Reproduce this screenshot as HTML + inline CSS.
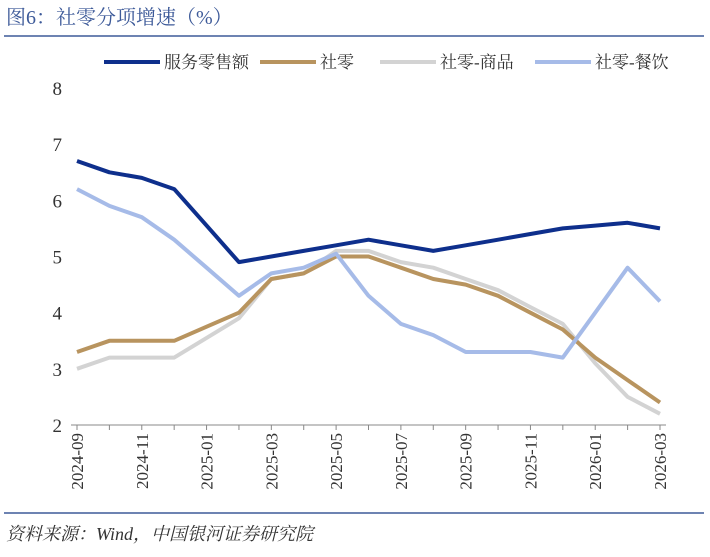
<!DOCTYPE html>
<html><head><meta charset="utf-8">
<style>
body{margin:0;width:710px;height:552px;background:#fff;overflow:hidden;font-family:"Liberation Serif","Noto Serif CJK SC",serif;}
</style></head>
<body>
<svg width="710" height="552" xmlns="http://www.w3.org/2000/svg">
<text x="6" y="24" font-size="20" fill="#3d5a99" font-family="Liberation Serif, Noto Serif CJK SC, serif">图6：社零分项增速（%）</text>
<line x1="4" y1="36" x2="704" y2="36" stroke="#3d5a99" stroke-width="1.5"/>
<line x1="4" y1="513" x2="704" y2="513" stroke="#3d5a99" stroke-width="1.5"/>
<text x="6" y="540" font-size="18" font-style="italic" fill="#333" font-family="Liberation Serif, Noto Serif CJK SC, serif">资料来源：Wind，中国银河证券研究院</text>
<g id="legend"></g>
<g id="axes"></g>
<g id="plot"></g>
</svg>
<script>
const categories=["2024-09","2024-10","2024-11","2024-12","2025-01","2025-02","2025-03","2025-04","2025-05","2025-06","2025-07","2025-08","2025-09","2025-10","2025-11","2025-12","2026-01","2026-02","2026-03"];
const services=[6.7,6.5,6.4,6.2,5.55,4.9,5.0,5.1,5.2,5.3,5.2,5.1,5.2,5.3,5.4,5.5,5.55,5.6,5.5];
const retail=[3.3,3.5,3.5,3.5,3.75,4.0,4.6,4.7,5.0,5.0,4.8,4.6,4.5,4.3,4.0,3.7,3.2,2.8,2.4];
const goods=[3.0,3.2,3.2,3.2,3.55,3.9,4.6,4.7,5.1,5.1,4.9,4.8,4.6,4.4,4.1,3.8,3.1,2.5,2.2];
const catering=[6.2,5.9,5.7,5.3,4.8,4.3,4.7,4.8,5.05,4.3,3.8,3.6,3.3,3.3,3.3,3.2,4.0,4.8,4.2];
const yTicks=[2,3,4,5,6,7,8];
const seriesNames=["服务零售额","社零","社零-商品","社零-餐饮"];
const NS="http://www.w3.org/2000/svg";
const x0=77,x1=660,y0=425,y1=88;
const xs=i=>x0+(x1-x0)*i/(categories.length-1);
const ys=v=>y0-(v-2)/(8-2)*(y0-y1);
function mk(t,a,p){const e=document.createElementNS(NS,t);for(const k in a)e.setAttribute(k,a[k]);p.appendChild(e);return e;}
const axes=document.getElementById('axes'),plot=document.getElementById('plot'),leg=document.getElementById('legend');
const al=mk('line',{x1:x0-6,y1:y0,x2:x1+6,y2:y0,stroke:'#888','stroke-width':1},axes);


yTicks.forEach(v=>{const t=mk('text',{x:62,y:ys(v)+7,'font-size':19,fill:'#333','text-anchor':'end'},axes);t.textContent=v;

});
categories.forEach((c,i)=>{const tk=mk('line',{x1:xs(i),y1:y0,x2:xs(i),y2:y0+5,stroke:'#888'},axes);


if(i%2===0){const t=mk('text',{transform:`translate(${xs(i)+6},${y0+8}) rotate(-90)`,'font-size':17,fill:'#333','text-anchor':'end'},axes);t.textContent=c;

}});
const data=[services,retail,goods,catering];
const colors=["#0e2f8c","#b8945f","#d3d3d3","#a6bbe8"];
const order=[2,1,3,0];
order.forEach(k=>{const d=data[k].map((v,i)=>(i?'L':'M')+xs(i).toFixed(1)+','+ys(v).toFixed(1)).join('');
const p=mk('path',{d:d,fill:'none',stroke:colors[k],'stroke-width':4,'stroke-linejoin':'round'},plot);

});
const lx=[104,260,380,535];
seriesNames.forEach((n,k)=>{const g=mk('g',{},leg);


mk('line',{x1:lx[k],y1:62,x2:lx[k]+56,y2:62,stroke:colors[k],'stroke-width':4},g);
const t=mk('text',{x:lx[k]+60,y:68,'font-size':17,fill:'#333'},g);t.textContent=n;});
</script>
</body></html>
